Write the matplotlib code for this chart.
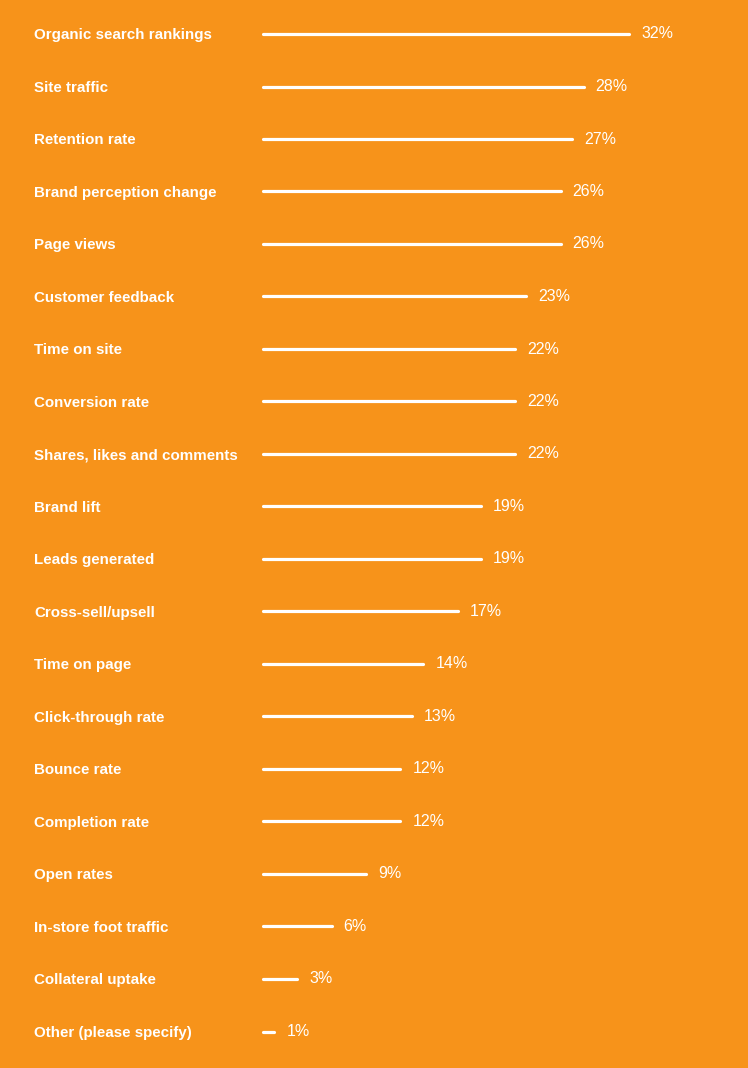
import numpy as np
import matplotlib.pyplot as plt

# survey answers, top to bottom
labels = [
    "Organic search rankings", "Site traffic", "Retention rate",
    "Brand perception change", "Page views", "Customer feedback",
    "Time on site", "Conversion rate", "Shares, likes and comments",
    "Brand lift", "Leads generated", "Cross-sell/upsell", "Time on page",
    "Click-through rate", "Bounce rate", "Completion rate", "Open rates",
    "In-store foot traffic", "Collateral uptake", "Other (please specify)",
]
values = [32, 28, 27, 26, 26, 23, 22, 22, 22, 19, 19, 17, 14, 13, 12, 12, 9, 6, 3, 1]

bg = '#F7931A'
W, H = 748, 1068
x0_px = 263          # where the lines start
px_per_pct = 11.45
top_px, step_px = 34, 52.5

fig = plt.figure(figsize=(W / 100, H / 100), dpi=100, facecolor=bg)
ax = fig.add_axes([0, 0, 1, 1])
ax.set_facecolor(bg)
ax.set_xlim(-x0_px / px_per_pct, (W - x0_px) / px_per_pct)
ax.set_ylim((H - top_px) / step_px, -top_px / step_px)
ax.axis('off')

for i, (lab, v) in enumerate(zip(labels, values)):
    ax.plot([0, v], [i, i], color='white', linewidth=2.3, solid_capstyle='round')
    ax.annotate(f'{v}%', (v, i), xytext=(12, 0), textcoords='offset pixels',
                ha='left', va='center', color='white', fontsize=11.5,
                family='Liberation Sans')
    ax.text(34 / W, i, lab, transform=ax.get_yaxis_transform(),
            ha='left', va='center_baseline', color='white', fontsize=10.9,
            fontweight='bold', family='Liberation Sans')

fig.savefig('out.png', dpi=100, facecolor=bg)
